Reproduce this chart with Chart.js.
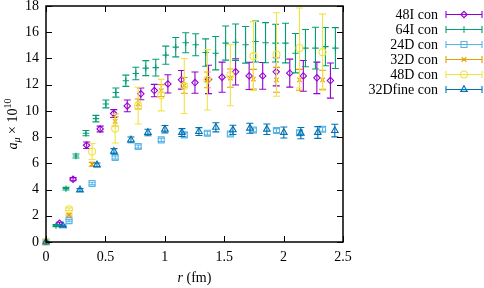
<!DOCTYPE html>
<html>
<head>
<meta charset="utf-8">
<script src="https://cdn.jsdelivr.net/npm/chart.js@4"></script>
<style>
  html, body { margin: 0; padding: 0; background: #fff; }
</style>
</head>
<body>
<canvas id="chart" width="484" height="288"></canvas>
<script>
// data
const labels = ["48I con", "64I con", "24D con", "32D con", "48D con", "32Dfine con"];

const r48I = [0, 0.114, 0.228, 0.342, 0.456, 0.570, 0.684, 0.798, 0.912, 1.026, 1.140, 1.254, 1.368, 1.482, 1.596, 1.710, 1.824, 1.938, 2.052, 2.166, 2.280, 2.394];
const a48I = [0, 1.43, 4.79, 7.38, 8.62, 9.8, 10.38, 11.3, 11.55, 12.06, 12.37, 12.16, 12.4, 12.57, 12.98, 12.67, 12.67, 12.98, 12.88, 12.67, 12.52, 12.31];
const e48I = [0, 0.08, 0.12, 0.25, 0.22, 0.3, 0.45, 0.45, 0.47, 0.7, 0.71, 0.81, 1.08, 1.15, 1.0, 1.04, 1.02, 1.07, 1.07, 1.17, 1.2, 1.34];

const r64I = [0, 0.084, 0.168, 0.252, 0.336, 0.420, 0.504, 0.588, 0.672, 0.756, 0.840, 0.924, 1.008, 1.092, 1.176, 1.260, 1.344, 1.428, 1.512, 1.596, 1.680, 1.764, 1.848, 1.932, 2.016, 2.100, 2.184, 2.268, 2.352, 2.436];
const a64I = [0, 1.25, 4.07, 6.56, 8.3, 9.41, 10.53, 11.4, 12.3, 12.85, 13.26, 13.3, 14.25, 14.86, 15.2, 15.04, 14.45, 14.4, 15.17, 15.24, 15.04, 15.29, 15.2, 15.17, 15.17, 14.4, 14.79, 14.79, 14.9, 14.79];
const e64I = [0, 0.08, 0.1, 0.15, 0.2, 0.25, 0.3, 0.35, 0.43, 0.48, 0.57, 0.64, 0.69, 0.74, 0.76, 0.84, 1.04, 1.27, 1.3, 1.39, 1.4, 1.56, 1.53, 1.44, 1.51, 1.5, 1.42, 1.59, 1.46, 1.56];

const r24D = [0, 0.194, 0.388, 0.582, 0.776, 0.970, 1.164, 1.358, 1.552, 1.746, 1.940, 2.134, 2.328];
const a24D = [0, 1.63, 4.46, 6.44, 7.28, 7.79, 8.17, 8.3, 8.24, 8.55, 8.5, 8.34, 8.6];
const e24D = [0, 0.08, 0.1, 0.12, 0.12, 0.12, 0.15, 0.15, 0.15, 0.15, 0.15, 0.15, 0.15];

const r32D = [0, 0.194, 0.388, 0.582, 0.776, 0.970, 1.164, 1.358, 1.552, 1.746, 1.940, 2.134, 2.328];
const a32D = [0, 2.06, 5.93, 9.2, 10.53, 11.55, 11.95, 12.37, 12.5, 12.42, 12.37, 12.37, 12.37];
const e32D = [0, 0.08, 0.15, 0.35, 0.38, 0.45, 0.6, 0.6, 0.7, 0.75, 0.95, 0.8, 0.73];

const r48D = [0, 0.194, 0.388, 0.582, 0.776, 0.970, 1.164, 1.358, 1.552, 1.746, 1.940, 2.134, 2.328];
const a48D = [0, 2.5, 6.9, 8.65, 10.4, 11.2, 11.9, 12.37, 12.72, 14.18, 14.3, 14.8, 14.48];
const e48D = [0, 0.1, 0.61, 1.1, 1.4, 1.2, 2.1, 2.3, 2.33, 2.63, 3.18, 3.05, 2.9];

const r32Df = [0, 0.143, 0.286, 0.429, 0.572, 0.715, 0.858, 1.001, 1.144, 1.287, 1.430, 1.573, 1.716, 1.859, 2.002, 2.145, 2.288, 2.431];
const a32Df = [0, 1.23, 3.97, 5.88, 6.92, 7.79, 8.35, 8.6, 8.35, 8.42, 8.75, 8.55, 8.68, 8.6, 8.35, 8.3, 8.35, 8.5];
const e32Df = [0, 0.06, 0.1, 0.15, 0.2, 0.22, 0.25, 0.28, 0.3, 0.3, 0.35, 0.35, 0.38, 0.4, 0.42, 0.43, 0.45, 0.48];

const xTicks = [0, 0.5, 1, 1.5, 2, 2.5];
const yTicks = [0, 2, 4, 6, 8, 10, 12, 14, 16, 18];

const colors = ["#9400d3", "#009e73", "#56b4e9", "#e69f00", "#f0e442", "#0072b2"];
const styles = ["rectRot", "cross", "rect", "crossRot", "circle", "triangle"];
const radii = [3.2, 3.2, 4.2, 3.2, 3.5, 3.8];

const series = [[r48I, a48I, e48I], [r64I, a64I, e64I], [r24D, a24D, e24D],
                [r32D, a32D, e32D], [r48D, a48D, e48D], [r32Df, a32Df, e32Df]];

const serif = "'Liberation Serif', 'DejaVu Serif', serif";

const datasets = series.map((s, i) => ({
  label: labels[i],
  data: s[0].map((x, j) => ({ x: x, y: s[1][j] })),
  errors: s[2],
  borderColor: colors[i],
  backgroundColor: "rgba(0,0,0,0)",
  pointStyle: styles[i],
  pointRadius: radii[i],
  pointBorderWidth: 1.1,
  showLine: false,
  clip: false,
  order: series.length - 1 - i
}));

// vertical error bars, drawn under each dataset's markers
const errorBars = {
  id: "errorBars",
  beforeDatasetDraw(chart, args) {
    const ds = chart.data.datasets[args.index];
    const xs = chart.scales.x, ys = chart.scales.y;
    const ctx = chart.ctx;
    ctx.save();
    ctx.strokeStyle = ds.borderColor;
    ctx.lineWidth = 1.1;
    ds.data.forEach((p, j) => {
      const e = ds.errors[j];
      if (!e) return;
      const px = xs.getPixelForValue(p.x);
      const y1 = ys.getPixelForValue(p.y - e);
      const y2 = ys.getPixelForValue(p.y + e);
      ctx.beginPath();
      ctx.moveTo(px, y1); ctx.lineTo(px, y2);
      ctx.moveTo(px - 3.5, y1); ctx.lineTo(px + 3.5, y1);
      ctx.moveTo(px - 3.5, y2); ctx.lineTo(px + 3.5, y2);
      ctx.stroke();
    });
    ctx.restore();
  }
};

// box, inward ticks, axis titles and legend in gnuplot style
const frame = {
  id: "frame",
  afterDraw(chart) {
    const ctx = chart.ctx;
    const a = chart.chartArea;
    const xs = chart.scales.x, ys = chart.scales.y;
    ctx.save();
    ctx.strokeStyle = "#000";
    ctx.lineWidth = 1;
    ctx.beginPath();
    xTicks.forEach(t => {
      const px = Math.round(xs.getPixelForValue(t)) + 0.5;
      ctx.moveTo(px, a.bottom); ctx.lineTo(px, a.bottom - 6);
      ctx.moveTo(px, a.top); ctx.lineTo(px, a.top + 6);
    });
    yTicks.forEach(t => {
      const py = Math.round(ys.getPixelForValue(t)) + 0.5;
      ctx.moveTo(a.left, py); ctx.lineTo(a.left + 6, py);
      ctx.moveTo(a.right, py); ctx.lineTo(a.right - 6, py);
    });
    ctx.stroke();
    ctx.lineWidth = 1.5;
    ctx.strokeRect(a.left, a.top, a.right - a.left, a.bottom - a.top);

    // x title
    ctx.fillStyle = "#000";
    ctx.textBaseline = "alphabetic";
    ctx.font = "italic 14px " + serif;
    const rW = ctx.measureText("r").width;
    ctx.font = "14px " + serif;
    const restW = ctx.measureText(" (fm)").width;
    let sx = (a.left + a.right) / 2 - (rW + restW) / 2;
    ctx.font = "italic 14px " + serif;
    ctx.fillText("r", sx, 282);
    ctx.font = "14px " + serif;
    ctx.fillText(" (fm)", sx + rW, 282);

    // y title, rotated
    ctx.save();
    ctx.translate(17, (a.top + a.bottom) / 2);
    ctx.rotate(-Math.PI / 2);
    const parts = [
      { t: "a", f: "italic 14px ", dy: 0 },
      { t: "\u03bc", f: "italic 10px ", dy: 3 },
      { t: " \u00d7 10", f: "14px ", dy: 0 },
      { t: "10", f: "10px ", dy: -6 }
    ];
    let total = 0;
    parts.forEach(p => { ctx.font = p.f + serif; p.w = ctx.measureText(p.t).width; total += p.w; });
    let cx = -total / 2;
    parts.forEach(p => { ctx.font = p.f + serif; ctx.fillText(p.t, cx, p.dy); cx += p.w; });
    ctx.restore();

    // legend
    ctx.font = "14px " + serif;
    ctx.textAlign = "right";
    ctx.textBaseline = "middle";
    chart.data.datasets.forEach((ds, i) => {
      const y = 14.5 + i * 15;
      ctx.fillStyle = "#000";
      ctx.fillText(ds.label, 438, y + 0.5);
      ctx.strokeStyle = ds.borderColor;
      ctx.lineWidth = 1.1;
      ctx.beginPath();
      ctx.moveTo(446, y); ctx.lineTo(482, y);
      ctx.moveTo(446, y - 3.5); ctx.lineTo(446, y + 3.5);
      ctx.moveTo(482, y - 3.5); ctx.lineTo(482, y + 3.5);
      ctx.stroke();
      ctx.fillStyle = "rgba(0,0,0,0)";
      Chart.helpers.drawPoint(ctx, { pointStyle: ds.pointStyle, radius: ds.pointRadius, borderWidth: 1.1, rotation: 0 }, 464, y);
    });
    ctx.restore();
  }
};

new Chart(document.getElementById("chart"), {
  type: "scatter",
  data: { datasets: datasets },
  plugins: [errorBars, frame],
  options: {
    responsive: false,
    animation: false,
    devicePixelRatio: 1,
    layout: { padding: { top: 6, right: 141, left: 0, bottom: 0 } },
    scales: {
      x: {
        type: "linear", min: 0, max: 2.5,
        afterBuildTicks: s => { s.ticks = xTicks.map(v => ({ value: v })); },
        afterFit: s => { s.height = 46; s.paddingLeft = 0; s.paddingRight = 0; },
        ticks: { color: "#000", padding: 7, font: { family: serif, size: 14 }, maxRotation: 0,
                 callback: v => String(+v.toFixed(1)) },
        grid: { display: false, drawTicks: false },
        border: { display: false }
      },
      y: {
        type: "linear", min: 0, max: 18,
        afterBuildTicks: s => { s.ticks = yTicks.map(v => ({ value: v })); },
        afterFit: s => { s.width = 46; s.paddingTop = 0; s.paddingBottom = 0; },
        ticks: { color: "#000", padding: 7, font: { family: serif, size: 14 } },
        grid: { display: false, drawTicks: false },
        border: { display: false }
      }
    },
    plugins: {
      legend: { display: false },
      tooltip: { enabled: false }
    }
  }
});
</script>
</body>
</html>
